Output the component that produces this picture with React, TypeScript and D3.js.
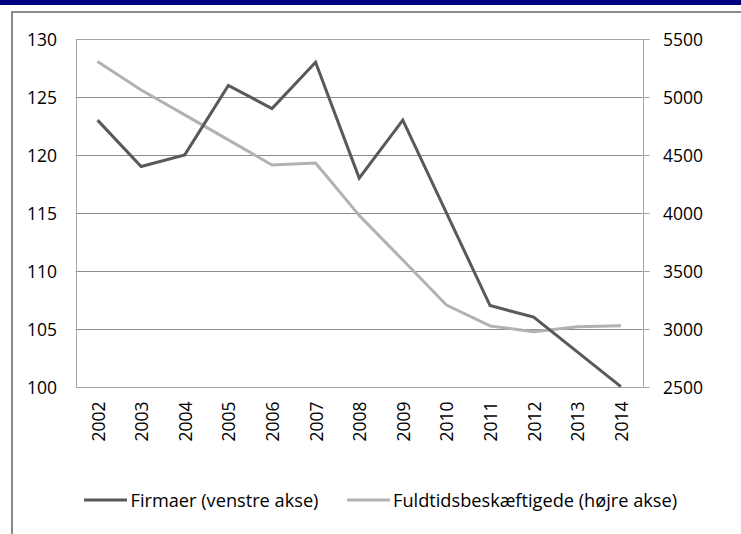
import React from "react";
import * as d3 from "d3";

const years = ["2002","2003","2004","2005","2006","2007","2008","2009","2010","2011","2012","2013","2014"];
const firmaer = [123, 119, 120, 126, 124, 128, 118, 123, 115, 107, 106, 103, 100];
const fuldtid = [5305, 5060, 4845, 4630, 4413, 4430, 3978, 3593, 3205, 3024, 2975, 3018, 3025];
const leftTicks = [100, 105, 110, 115, 120, 125, 130];
const rightTicks = [2500, 3000, 3500, 4000, 4500, 5000, 5500];
const legendLabels = ["Firmaer (venstre akse)", "Fuldtidsbeskæftigede (højre akse)"];

const W = 741, H = 534;
const L = 75.7, R = 642.7, T = 39, B = 386.7;
const FONT = "'Open Sans', Lato, sans-serif";
const DARK = "#595959";
const LIGHT = "#b2b2b2";
const AX = 17.5;
const LG = 18.2;

export default function App() {
  const x = d3.scaleBand<string>().domain(years).range([L, R]);
  const cx = (y: string) => (x(y) as number) + x.bandwidth() / 2;
  const yL = d3.scaleLinear().domain([100, 130]).range([B, T]);
  const yR = d3.scaleLinear().domain([2500, 5500]).range([B, T]);
  const lineL = d3.line<number>().x((_, i) => cx(years[i])).y((d) => yL(d));
  const lineR = d3.line<number>().x((_, i) => cx(years[i])).y((d) => yR(d));

  return (
    <svg width={W} height={H} style={{ position: "absolute", left: 0, top: 0, background: "#fff" }}>
      <rect x={0} y={0} width={W} height={H} fill="#fff" />
      <rect x={0} y={0} width={W} height={5} fill="#000080" />
      <rect x={12} y={12} width={W + 20} height={H + 20} fill="none" stroke="#8a8a8a" strokeWidth={2} />
      {leftTicks.map((t) => (
        <line key={"g" + t} x1={L} x2={R} y1={Math.round(yL(t)) + 0.5} y2={Math.round(yL(t)) + 0.5}
          stroke={t === 100 || t === 130 ? "#a6a6a6" : "#8c8c8c"} strokeWidth={1} />
      ))}
      {rightTicks.map((t) => (
        <line key={"rt" + t} x1={R} x2={R + 7} y1={Math.round(yR(t)) + 0.5} y2={Math.round(yR(t)) + 0.5}
          stroke="#a6a6a6" strokeWidth={1} />
      ))}
      <line x1={Math.round(L) + 0.5} x2={Math.round(L) + 0.5} y1={T} y2={B} stroke="#a6a6a6" />
      <line x1={Math.round(R) + 0.5} x2={Math.round(R) + 0.5} y1={T} y2={B} stroke="#a6a6a6" />
      {leftTicks.map((t) => (
        <text key={"lt" + t} x={57} y={yL(t)} textAnchor="end" dominantBaseline="central"
          fontFamily={FONT} fontSize={AX} fill="#000">{t}</text>
      ))}
      {rightTicks.map((t) => (
        <text key={"rl" + t} x={663} y={yR(t)} textAnchor="start" dominantBaseline="central"
          fontFamily={FONT} fontSize={AX} fill="#000">{t}</text>
      ))}
      {years.map((yv) => (
        <text key={"x" + yv} transform={`translate(${cx(yv)},${401.5}) rotate(-90)`} textAnchor="end"
          dominantBaseline="central" fontFamily={FONT} fontSize={AX} fill="#000">{yv}</text>
      ))}
      <path d={lineR(fuldtid) || ""} fill="none" stroke={LIGHT} strokeWidth={3} strokeLinejoin="round" />
      <path d={lineL(firmaer) || ""} fill="none" stroke={DARK} strokeWidth={3} strokeLinejoin="miter" />
      <line x1={84} x2={127} y1={500} y2={500} stroke={DARK} strokeWidth={3} />
      <text x={130.5} y={500} dominantBaseline="central" fontFamily={FONT} fontSize={LG} fill="#000">{legendLabels[0]}</text>
      <line x1={347} x2={390} y1={500} y2={500} stroke={LIGHT} strokeWidth={3} />
      <text x={393} y={500} dominantBaseline="central" fontFamily={FONT} fontSize={LG} fill="#000">{legendLabels[1]}</text>
    </svg>
  );
}
